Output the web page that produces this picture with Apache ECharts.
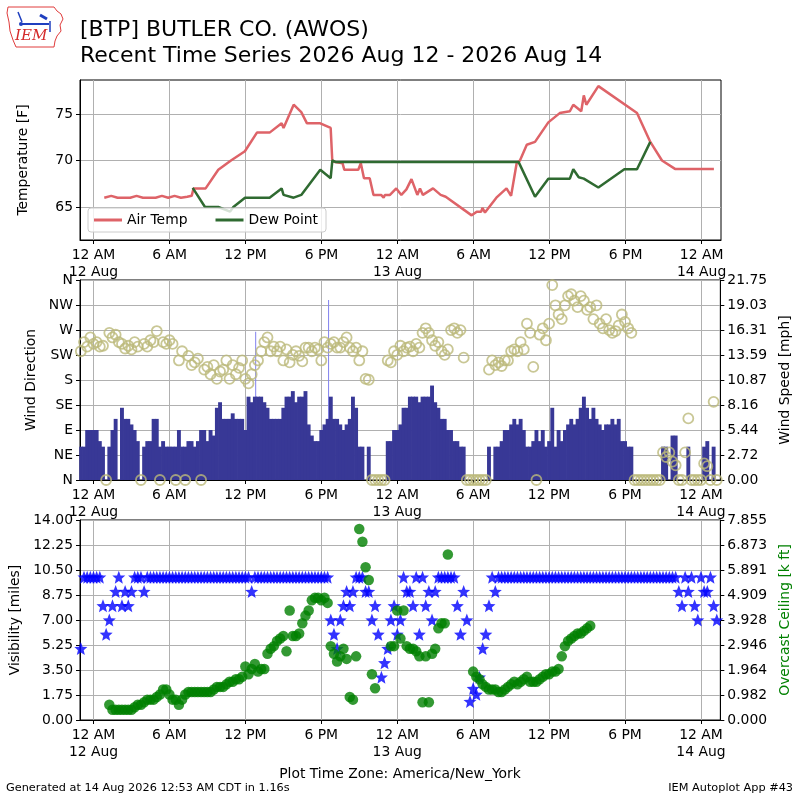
<!DOCTYPE html>
<html>
    <head>
        <meta charset="utf-8">
        <script src="https://cdn.jsdelivr.net/npm/echarts@6/dist/echarts.min.js"></script>
        <style type="text/css">
            #main {height:800px;width:800px;position:absolute;}
            body {margin:0px;padding:0px;overflow:hidden;background:#fff;}
        </style>
    </head>
    <body>
        <div id="main"></div>
        <script type="text/javascript">
            // hours counted from 12 AM 12 Aug (America/New_York)
            const xTickHours = [0, 6, 12, 18, 24, 30, 36, 42, 48];
            const xTickLabels = ['12 AM\n12 Aug', '6 AM', '12 PM', '6 PM', '12 AM\n13 Aug', '6 AM', '12 PM', '6 PM', '12 AM\n14 Aug'];
            const tempTicks = [65, 70, 75];
            const dirLabels = ['N', 'NE', 'E', 'SE', 'S', 'SW', 'W', 'NW', 'N'];
            const speedLabels = ['0.00', '2.72', '5.44', '8.16', '10.87', '13.59', '16.31', '19.03', '21.75'];
            const visLabels = ['0.00', '1.75', '3.50', '5.25', '7.00', '8.75', '10.50', '12.25', '14.00'];
            const ceilLabels = ['0.000', '0.982', '1.964', '2.946', '3.928', '4.909', '5.891', '6.873', '7.855'];

            // air temperature / dew point obs
            const airHours = [0.85, 1.0, 1.4, 1.9, 2.9, 3.4, 3.9, 4.9, 5.4, 5.9, 6.4, 6.9, 7.4, 7.75, 7.9, 8.85, 9.85, 10.85, 11.95, 12.9, 13.9, 14.85, 15.0, 15.8, 16.4, 16.85, 17.9, 18.72, 18.85, 19.66, 19.8, 20.9, 21.1, 21.35, 21.8, 22.1, 22.7, 22.9, 23.0, 23.4, 23.9, 24.3, 24.7, 25.1, 25.56, 25.77, 26.0, 26.8, 27.4, 27.8, 29.85, 30.25, 30.6, 30.7, 30.9, 31.8, 32.6, 32.96, 33.4, 33.66, 34.2, 34.85, 35.9, 36.8, 37.6, 37.87, 38.5, 38.7, 38.9, 39.85, 42.9, 43.95, 44.87, 45.9, 48.97];
            const airTemp = [66.0, 66.2, 66.2, 66.0, 66.0, 66.2, 66.0, 66.0, 66.2, 66.0, 66.2, 66.0, 66.1, 66.2, 67.0, 67.0, 69.0, 70.0, 71.0, 73.0, 73.0, 74.0, 73.5, 76.0, 75.2, 74.0, 74.0, 73.5, 69.9, 69.7, 69.0, 69.0, 69.7, 68.1, 68.1, 66.3, 66.3, 66.0, 66.3, 66.3, 67.0, 66.3, 66.9, 68.0, 66.3, 67.0, 66.3, 67.0, 66.3, 66.1, 64.1, 64.5, 64.5, 64.9, 64.4, 66.0, 67.0, 66.2, 69.7, 70.0, 71.7, 72.0, 74.1, 75.1, 75.3, 76.0, 75.3, 77.0, 76.0, 78.0, 75.1, 72.0, 70.0, 69.1, 69.1];
            const dewHours = [7.83, 8.8, 9.85, 10.78, 11.04, 11.96, 13.9, 14.85, 15.0, 15.8, 16.4, 17.9, 18.72, 18.85, 19.1, 33.55, 34.85, 35.9, 37.6, 37.87, 38.3, 38.7, 39.85, 41.9, 42.9, 43.95];
            const dewPoint = [67.05, 65.0, 65.0, 64.5, 65.0, 66.0, 66.0, 67.0, 66.3, 66.0, 66.3, 69.0, 68.1, 70.0, 69.85, 69.85, 66.1, 68.05, 68.05, 69.06, 68.2, 68.05, 67.1, 69.06, 69.06, 72.0];

            // 15 minute obs, first slot 11 PM 11 Aug (hour -1)
            const slotStart = -1;
            const slotStep = 0.25;
            const windDir = [
                60, 60, 90, 90,      90, 90, 70, 60,      0, 60, 90, 110,      0, 130, 110, 110,
                100, 90, 70, 0,      60, 70, 70, 110,     110, 60, 70, 60,     60, 60, 60, 90,
                60, 60, 70, 70,      60, 70, 90, 90,      70, 90, 80, 130,     140, 110, 110, 110,
                120, 110, 110, 110,  90, 150, 140, 150,   150, 150, 140, 130,  110, 110, 110, 110,
                130, 150, 150, 160,  140, 150, 150, 160,  100, 80, 70, 70,     90, 100, 110, 150,
                110, 110, 100, 90,   100, 110, 150, 130,  60, 60, 0, 60,       0, 0, 0, 0,
                0, 70, 70, 90,       90, 100, 130, 130,   150, 150, 150, 140,  150, 150, 150, 170,
                140, 130, 110, 110,  90, 90, 70, 70,      60, 60, 0, 0,        0, 0, 0, 0,
                0, 60, 0, 60,        60, 70, 90, 90,      100, 110, 100, 110,  90, 60, 60, 70,
                90, 70, 90, 60,      70, 130, 60, 90,     70, 90, 100, 110,    100, 110, 130, 150,
                130, 110, 130, 110,  100, 90, 100, 100,   110, 100, 110, 70,   70, 60, 60, 0,
                0, 0, 0, 0,          0, 0, 0, 0,          60, 60, 0, 80,       80, 0, 0, 0,
                60, 0, 0, 0,         0, 60, 70, 0,        60, 0
            ];
            const windSpeed = [
                14.0, 15.0, 14.5, 15.5,  14.8, 15.0, 14.5, 14.6,  0, 16.0, 15.5, 15.8,     15.0, 14.8, 14.3, 14.6,
                14.2, 15.0, 14.5, 0,     14.8, 14.5, 15.2, 15.0,  16.2, 0, 15.0, 14.8,     15.2, 14.8, 0, 13.0,
                14.0, 0, 13.5, 12.5,     12.8, 13.2, 0, 12.0,     12.3, 11.5, 12.5, 11.0,  11.8, 12.0, 13.0, 11.0,
                12.5, 11.5, 12.2, 13.0,  11.0, 10.5, 11.5, 12.5,  13.0, 14.0, 15.0, 15.5,  14.0, 14.5, 14.0, 14.5,
                13.0, 14.2, 12.8, 13.6,  14.0, 13.5, 12.9, 14.4,  14.4, 14.0, 14.4, 14.2,  13.0, 15.0, 14.4, 14.8,
                15.0, 14.4, 14.4, 15.0,  15.5, 14.4, 14.0, 14.4,  13.0, 14.0, 11.0, 10.9,  0, 0, 0, 0,
                0, 13.0, 12.8, 14.0,     13.6, 14.6, 14.0, 14.4,  14.5, 14.0, 14.8, 14.4,  16.0, 16.5, 16.0, 15.2,
                14.6, 15.0, 14.0, 13.6,  14.2, 16.3, 16.5, 16.0,  16.3, 13.3, 0, 0,        0, 0, 0, 0,
                0, 12.0, 13.0, 12.5,     12.8, 12.4, 13.0, 13.0,  14.0, 14.2, 14.0, 15.0,  14.2, 17.0, 16.0, 12.3,
                0, 15.8, 16.5, 15.2,     17.0, 21.2, 19.0, 18.0,  17.5, 19.0, 20.0, 20.2,  19.5, 18.8, 20.0, 19.5,
                18.5, 18.8, 17.5, 19.0,  17.0, 16.5, 17.5, 16.3,  16.0, 16.2, 16.8, 18.0,  17.2, 16.5, 16.0, 0,
                0, 0, 0, 0,              0, 0, 0, 0,              3.0, 2.5, 3.0, 2.0,      1.6, 0, 0, 3.0,
                6.7, 0, 0, 0,            0, 1.8, 1.5, 0,          8.5, 0
            ];
            // thin single-ob direction spikes
            const spikeHours = [12.93, 18.69];
            const spikeDir = [267, 324];

            const visibility = [
                5, 10, 10, 10,   10, 10, 10, 8,   6, 7, 8, 9,      10, 8, 9, 8,
                9, 10, 10, 10,   9, 10, 10, 10,   10, 10, 10, 10,  10, 10, 10, 10,
                10, 10, 10, 10,  10, 10, 10, 10,  10, 10, 10, 10,  10, 10, 10, 10,
                10, 10, 10, 10,  10, 10, 9, 10,   10, 10, 10, 10,  10, 10, 10, 10,
                10, 10, 10, 10,  10, 10, 10, 10,  10, 10, 10, 10,  10, 10, 10, 7,
                6, 5, 7, 8,      9, 8, 9, 10,     10, 10, 9, 9,    7, 8, 6, 3,
                4, 5, 7, 8,      6, 7, 10, 9,     9, 8, 10, 6,     10, 8, 9, 7,
                9, 10, 10, 10,   10, 10, 10, 8,   6, 9, 7, 1.3,    2.2, 1.8, 3.0, 5.0,
                6.0, 8.0, 10, 9, 10, 10, 10, 10,  10, 10, 10, 10,  10, 10, 10, 10,
                10, 10, 10, 10,  10, 10, 10, 10,  10, 10, 10, 10,  10, 10, 10, 10,
                10, 10, 10, 10,  10, 10, 10, 10,  10, 10, 10, 10,  10, 10, 10, 10,
                10, 10, 10, 10,  10, 10, 10, 10,  10, 10, 10, 10,  10, 9, 8, 10,
                9, 10, 8, 7,     10, 9, 9, 10,    8, 7
            ];
            const ceiling = [
                null, null, null, null,  null, null, null, null,  null, 0.6, 0.4, 0.4,   0.4, 0.4, 0.4, 0.4,
                0.4, 0.5, 0.6, 0.6,      0.7, 0.8, 0.8, 0.8,      0.9, 1.0, 1.2, 1.2,    1.0, 0.8, 0.8, 0.6,
                0.8, 1.0, 1.1, 1.1,      1.1, 1.1, 1.1, 1.1,      1.1, 1.1, 1.2, 1.3,    1.3, 1.3, 1.4, 1.5,
                1.5, 1.6, 1.6, 1.7,      2.1, 1.8, 2.0, 2.2,      1.9, 2.0, 2.0, 2.6,    2.8, 2.9, 3.1, 3.2,
                3.3, 2.7, 4.3, 3.3,      3.3, 3.4, 3.8, 4.1,      4.3, 4.7, 4.8, 4.8,    4.7, 4.8, 4.6, 2.9,
                2.6, 2.3, 2.5, 2.8,      2.4, 0.9, 0.8, 2.5,      7.5, 7.0, 6.0, 5.5,    1.8, 1.25, null, null,
                null, null, 2.9, 2.9,    4.3, 3.2, 4.3, 2.9,      2.8, 2.8, 2.7, 2.5,    0.7, 2.5, 0.7, 2.6,
                2.8, 3.6, 3.8, 3.8,      6.5, null, null, null,   null, null, null, null, 1.9, 1.7, 1.6, 1.4,
                1.3, 1.2, 1.2, 1.2,      1.1, 1.1, 1.2, 1.3,      1.4, 1.5, 1.4, 1.5,    1.6, 1.7, 1.5, 1.5,
                1.5, 1.6, 1.7, 1.8,      1.8, 1.9, 1.9, 2.0,      2.5, 2.9, 3.1, 3.2,    3.3, 3.4, 3.4, 3.5,
                3.6, 3.7, null, null
            ];

            const font = 'DejaVu Sans';
            const fs = 13.9;
            const starPath = 'path://M0,-10L2.6,-3.4L9.51,-3.09L4.2,1.4L5.88,8.09L0,4.4L-5.88,8.09L-4.2,1.4L-9.51,-3.09L-2.6,-3.4Z';

            function pairs(hours, vals) {
                return vals.map((v, i) => [hours[i], v]);
            }
            function slots(vals) {
                return vals.map((v, i) => [slotStart + i * slotStep, v]);
            }

            function makeX(gi) {
                return {
                    type: 'value', gridIndex: gi, min: -1.066, max: 49.53,
                    axisLine: {show: true, onZero: false, lineStyle: {color: '#000'}},
                    axisTick: {show: true, customValues: xTickHours, length: 4, lineStyle: {color: '#000'}},
                    axisLabel: {
                        customValues: xTickHours, color: '#000', fontSize: fs, fontFamily: font, margin: 7, lineHeight: 17,
                        formatter: v => xTickLabels[xTickHours.indexOf(v)]
                    },
                    splitLine: {show: true, lineStyle: {color: '#b0b0b0', width: 1}}
                };
            }
            function makeY(gi, opts) {
                let y = {
                    type: 'value', gridIndex: gi,
                    nameLocation: 'middle',
                    nameTextStyle: {color: '#000', fontSize: fs, fontFamily: font},
                    axisLine: {show: true, onZero: false, lineStyle: {color: '#000'}},
                    axisTick: {show: true, length: 4, lineStyle: {color: '#000'}},
                    axisLabel: {color: '#000', fontSize: fs, fontFamily: font, margin: 7},
                    splitLine: {show: true, lineStyle: {color: '#b0b0b0', width: 1}}
                };
                return echarts.util.merge(y, opts, true);
            }

            let myChart = echarts.init(document.getElementById('main'));
            let option = {
                animation: false,
                backgroundColor: '#fff',
                textStyle: {fontFamily: font},
                title: [
                    {text: '[BTP] BUTLER CO. (AWOS)', left: 80, top: 19, padding: 0,
                        textStyle: {fontSize: 22, fontWeight: 'normal', color: '#000', fontFamily: font}},
                    {text: 'Recent Time Series 2026 Aug 12 - 2026 Aug 14', left: 80, top: 45, padding: 0,
                        textStyle: {fontSize: 22, fontWeight: 'normal', color: '#000', fontFamily: font}},
                    {text: 'Plot Time Zone: America/New_York', left: 'center', top: 767, padding: 0,
                        textStyle: {fontSize: fs, fontWeight: 'normal', color: '#000', fontFamily: font}},
                    {text: 'Generated at 14 Aug 2026 12:53 AM CDT in 1.16s', left: 6, top: 783, padding: 0,
                        textStyle: {fontSize: 11.3, fontWeight: 'normal', color: '#000', fontFamily: font}},
                    {text: 'IEM Autoplot App #43', right: 7, top: 783, padding: 0,
                        textStyle: {fontSize: 11.3, fontWeight: 'normal', color: '#000', fontFamily: font}}
                ],
                graphic: [
                    // IEM logo
                    {type: 'polyline', shape: {points: [[8, 7], [54, 7], [57, 11], [61, 14], [63, 19], [60, 25], [61, 31], [57, 36], [55, 41], [54, 47], [16, 47], [13, 40], [10, 31], [9, 22], [7, 13], [8, 7]]},
                        style: {stroke: '#e03c3c', lineWidth: 1, fill: null}},
                    {type: 'line', shape: {x1: 22, y1: 24, x2: 49, y2: 24}, style: {stroke: '#1f3fbf', lineWidth: 2}},
                    {type: 'line', shape: {x1: 18, y1: 12, x2: 22, y2: 22}, style: {stroke: '#1f3fbf', lineWidth: 1.5}},
                    {type: 'line', shape: {x1: 40, y1: 15, x2: 47, y2: 19}, style: {stroke: '#1f3fbf', lineWidth: 3}},
                    {type: 'line', shape: {x1: 50, y1: 21, x2: 50, y2: 32}, style: {stroke: '#1f3fbf', lineWidth: 1.5}},
                    {type: 'circle', shape: {cx: 21, cy: 24, r: 2}, style: {fill: '#1f3fbf'}},
                    {type: 'text', left: 15, top: 29, style: {text: 'IEM', fill: '#d42a2a', font: 'italic 15px "DejaVu Serif"'}}
                ],
                legend: {
                    left: 88, top: 208, itemWidth: 28, itemHeight: 3, itemGap: 28, icon: 'rect',
                    backgroundColor: 'rgba(255,255,255,0.8)', borderColor: '#cccccc', borderWidth: 1, borderRadius: 3,
                    padding: [5, 8, 5, 6],
                    textStyle: {fontSize: fs, fontFamily: font, color: '#000'},
                    data: ['Air Temp', 'Dew Point']
                },
                grid: [
                    {left: 80, top: 80, width: 641, height: 160, show: true, borderColor: '#000', borderWidth: 1, backgroundColor: 'transparent'},
                    {left: 80, top: 280, width: 641, height: 200, show: true, borderColor: '#000', borderWidth: 1, backgroundColor: 'transparent'},
                    {left: 80, top: 520, width: 641, height: 200, show: true, borderColor: '#000', borderWidth: 1, backgroundColor: 'transparent'}
                ],
                xAxis: [makeX(0), makeX(1), makeX(2)],
                yAxis: [
                    makeY(0, {min: 61.45, max: 78.66, name: 'Temperature [F]', nameGap: 50,
                        axisTick: {customValues: tempTicks}, axisLabel: {customValues: tempTicks}}),
                    makeY(1, {min: 0, max: 360, interval: 45, name: 'Wind Direction', nameGap: 40,
                        axisLabel: {formatter: v => dirLabels[Math.round(v / 45)]}}),
                    makeY(1, {min: 0, max: 21.75, interval: 2.71875, position: 'right', name: 'Wind Speed [mph]', nameGap: 55,
                        splitLine: {show: false}, axisLabel: {formatter: v => speedLabels[Math.round(v / 2.71875)]}}),
                    makeY(2, {min: 0, max: 14, interval: 1.75, name: 'Visibility [miles]', nameGap: 53,
                        axisLabel: {formatter: v => visLabels[Math.round(v / 1.75)]}}),
                    makeY(2, {min: 0, max: 7.855, interval: 0.981875, position: 'right', name: 'Overcast Ceiling [k ft]', nameGap: 55,
                        nameTextStyle: {color: '#008000'},
                        splitLine: {show: false}, axisLabel: {formatter: v => ceilLabels[Math.round(v / 0.981875)]}})
                ],
                series: [
                    {name: 'Air Temp', type: 'line', xAxisIndex: 0, yAxisIndex: 0, symbol: 'none',
                        lineStyle: {color: '#de6368', width: 2.5}, itemStyle: {color: '#de6368'},
                        data: pairs(airHours, airTemp)},
                    {name: 'Dew Point', type: 'line', xAxisIndex: 0, yAxisIndex: 0, symbol: 'none',
                        lineStyle: {color: '#2f6a31', width: 2.5}, itemStyle: {color: '#2f6a31'},
                        data: pairs(dewHours, dewPoint)},
                    {name: 'dirSpike', type: 'bar', xAxisIndex: 1, yAxisIndex: 1, barWidth: 1,
                        itemStyle: {color: '#8080ee'}, data: pairs(spikeHours, spikeDir)},
                    {name: 'Wind Direction', type: 'bar', xAxisIndex: 1, yAxisIndex: 1, barWidth: 3.9, barGap: '-100%',
                        itemStyle: {color: '#383896'}, data: slots(windDir)},
                    {name: 'Wind Speed', type: 'scatter', xAxisIndex: 1, yAxisIndex: 2, symbol: 'circle', symbolSize: 10,
                        itemStyle: {color: 'rgba(0,0,0,0)', borderColor: '#bbb97a', borderWidth: 1.8}, z: 5,
                        data: slots(windSpeed)},
                    {name: 'Visibility', type: 'scatter', xAxisIndex: 2, yAxisIndex: 3, symbol: starPath, symbolSize: 13,
                        itemStyle: {color: '#0000ff'}, data: slots(visibility)},
                    {name: 'Ceiling', type: 'scatter', xAxisIndex: 2, yAxisIndex: 4, symbol: 'circle', symbolSize: 10.5,
                        itemStyle: {color: '#008000'}, z: 5, data: slots(ceiling)}
                ]
            };
            myChart.setOption(option);

            window.onresize = myChart.resize;
        </script>
    </body>
</html>
